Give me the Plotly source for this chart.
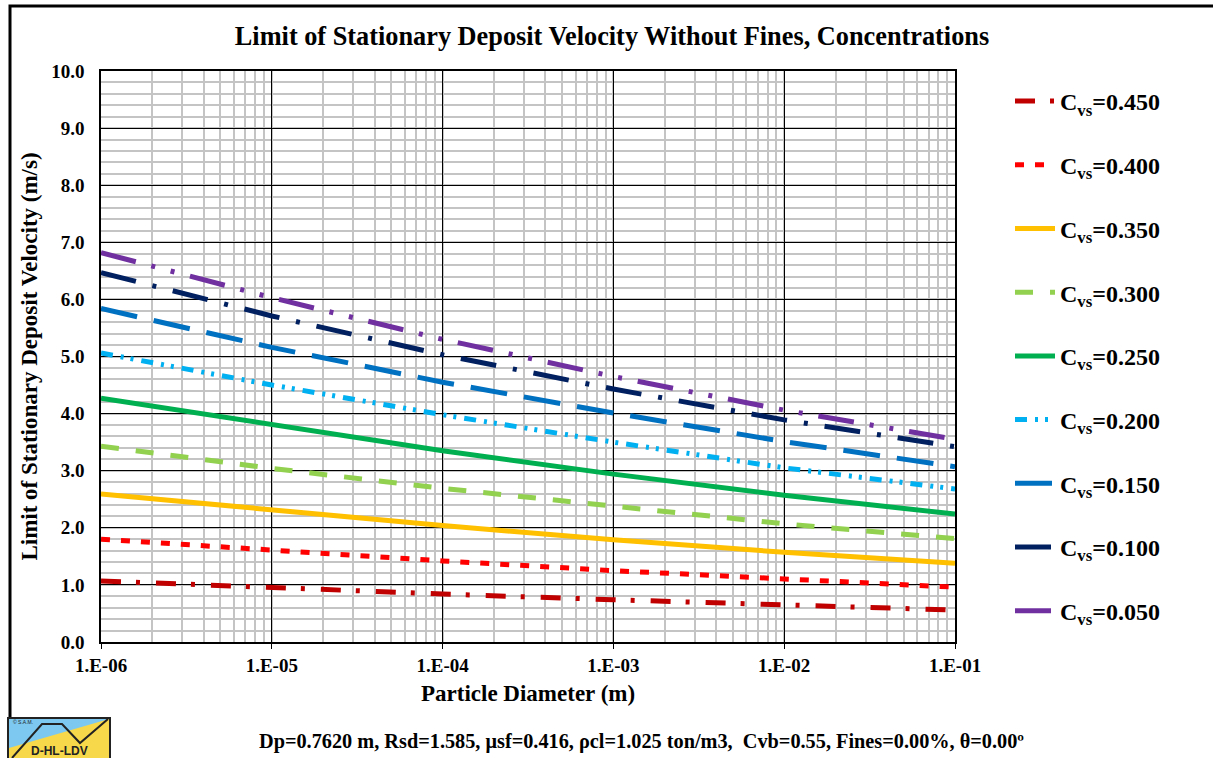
import plotly.graph_objects as go

# ---------------- data ----------------
diameters = [1e-6, 1e-5, 1e-4, 1e-3, 1e-2, 1e-1]
x_tick_vals = [1e-6, 1e-5, 1e-4, 1e-3, 1e-2, 1e-1]
x_tick_text = ["1.E-06", "1.E-05", "1.E-04", "1.E-03", "1.E-02", "1.E-01"]
y_tick_vals = [0, 1, 2, 3, 4, 5, 6, 7, 8, 9, 10]
y_tick_text = ["0.0", "1.0", "2.0", "3.0", "4.0", "5.0", "6.0", "7.0", "8.0", "9.0", "10.0"]

cvs_labels = ["0.450", "0.400", "0.350", "0.300", "0.250", "0.200", "0.150", "0.100", "0.050"]
v_0450 = [1.07, 0.95, 0.84, 0.74, 0.64, 0.56]
v_0400 = [1.80, 1.60, 1.42, 1.25, 1.10, 0.96]
v_0350 = [2.59, 2.31, 2.04, 1.79, 1.57, 1.38]
v_0300 = [3.43, 3.04, 2.69, 2.37, 2.07, 1.81]
v_0250 = [4.27, 3.80, 3.35, 2.94, 2.57, 2.24]
v_0200 = [5.06, 4.50, 3.98, 3.50, 3.05, 2.68]
v_0150 = [5.84, 5.16, 4.55, 4.01, 3.51, 3.07]
v_0100 = [6.47, 5.71, 5.03, 4.43, 3.89, 3.42]
v_0050 = [6.82, 6.03, 5.30, 4.65, 4.06, 3.55]
series_values = [v_0450, v_0400, v_0350, v_0300, v_0250, v_0200, v_0150, v_0100, v_0050]

# ---------------- styles ----------------
colors = ["#C00000", "#FF0000", "#FFC000", "#92D050", "#00B050",
          "#00B0F0", "#0070C0", "#002060", "#7030A0"]
dashes = ["20px,15px,4px,16px",
          "9px,11px",
          "solid",
          "18px,17px",
          "solid",
          "12px,8px,3px,7px,3px,8px",
          "37px,17px",
          "36px,17px,4px,17px",
          "36px,16px,4px,16px,4px,16px"]

FONT = "Liberation Serif"

fig = go.Figure()
for lab, vals, col, dsh in zip(cvs_labels, series_values, colors, dashes):
    fig.add_trace(go.Scatter(
        x=diameters, y=vals, mode="lines",
        name="C<sub>vs</sub>=" + lab,
        legendgroup=lab,
        line=dict(color=col, width=5, dash=dsh),
    ))

# plot area in pixels
L, R, T, B = 101, 955, 71, 642
W, H = 1213, 758


def px(xp):
    return (xp - L) / (R - L)


def py(yp):
    return (B - yp) / (B - T)


shapes = []
# outer frame
shapes.append(dict(type="rect", xref="paper", yref="paper",
                   x0=px(10), x1=px(1216), y0=py(6), y1=py(762),
                   line=dict(color="black", width=3), fillcolor="rgba(0,0,0,0)", layer="above"))
# logo
shapes.append(dict(type="rect", xref="paper", yref="paper",
                   x0=px(8), x1=px(110), y0=py(718), y1=py(760),
                   line=dict(color="#222222", width=2), fillcolor="#F7D84A", layer="above"))
shapes.append(dict(type="path", xref="paper", yref="paper",
                   path=f"M {px(9)},{py(719)} L {px(109)},{py(719)} L {px(9)},{py(748)} Z",
                   line=dict(width=0), fillcolor="#7CC8F0", layer="above"))
shapes.append(dict(type="path", xref="paper", yref="paper",
                   path=(f"M {px(12)},{py(758)} L {px(42)},{py(724)} L {px(62)},{py(724)} "
                         f"L {px(80)},{py(743)} L {px(108)},{py(719)}"),
                   line=dict(color="#222222", width=2), layer="above"))

annotations = [
    dict(text="<b>Particle Diameter (m)</b>", xref="paper", yref="paper",
         x=0.5, y=py(693), xanchor="center", yanchor="middle", showarrow=False,
         font=dict(family=FONT, size=23, color="black")),
    dict(text="<b>Dp=0.7620 m, Rsd=1.585, μsf=0.416, ρcl=1.025 ton/m3,  Cvb=0.55, Fines=0.00%, θ=0.00º</b>",
         xref="paper", yref="paper", x=px(641), y=py(741), xanchor="center", yanchor="middle",
         showarrow=False, font=dict(family=FONT, size=20.3, color="black")),
    dict(text="<b>D-HL-LDV</b>", xref="paper", yref="paper", x=px(59), y=py(751),
         xanchor="center", yanchor="middle", showarrow=False,
         font=dict(family="Liberation Sans", size=12, color="#222222")),
    dict(text="© S.A.M.", xref="paper", yref="paper", x=px(11), y=py(722),
         xanchor="left", yanchor="middle", showarrow=False,
         font=dict(family="Liberation Sans", size=5, color="#222222")),
]

fig.update_layout(
    width=W, height=H,
    margin=dict(l=L, r=W - R, t=T, b=H - B, autoexpand=False),
    paper_bgcolor="white", plot_bgcolor="white",
    title=dict(text="<b>Limit of Stationary Deposit Velocity Without Fines, Concentrations</b>",
               x=px(612), xref="paper", xanchor="center",
               y=1 - 36 / H, yanchor="middle",
               font=dict(family=FONT, size=26.3, color="black")),
    font=dict(family=FONT, color="black"),
    legend=dict(x=px(1010), xref="paper", y=py(79), yanchor="top", xanchor="left",
                font=dict(family=FONT, size=24, color="black", weight="bold"),
                tracegroupgap=29.5, itemwidth=40, bgcolor="rgba(0,0,0,0)"),
    shapes=shapes,
    annotations=annotations,
)

fig.update_xaxes(
    type="log", range=[-6, -1],
    tickmode="array", tickvals=x_tick_vals, ticktext=x_tick_text,
    tickfont=dict(family=FONT, size=19, color="black", weight="bold"),
    showgrid=True, gridcolor="black", gridwidth=1.3,
    minor=dict(showgrid=True, dtick="D1", gridcolor="#C4C4C4", gridwidth=1.5),
    showline=True, linecolor="black", linewidth=1.5, mirror=True,
    ticks="outside", ticklen=5, tickcolor="black",
    zeroline=False,
)
fig.update_yaxes(
    range=[0, 10],
    tickmode="array", tickvals=y_tick_vals, ticktext=y_tick_text,
    tickfont=dict(family=FONT, size=19, color="black", weight="bold"),
    ticklabelstandoff=11,
    showgrid=True, gridcolor="black", gridwidth=1.3,
    minor=dict(showgrid=True, dtick=0.2, gridcolor="#C4C4C4", gridwidth=1.5),
    showline=True, linecolor="black", linewidth=1.5, mirror=True,
    ticks="", zeroline=False,
    title=dict(text="<b>Limit of Stationary Deposit Velocity (m/s)</b>",
               font=dict(family=FONT, size=23, color="black"), standoff=7),
)

fig.write_html("out.html", config={"displayModeBar": False},
               post_script="document.body.style.margin='0';")
